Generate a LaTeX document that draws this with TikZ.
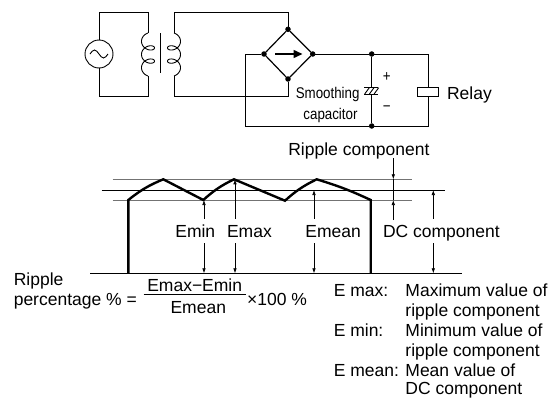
\documentclass[tikz,border=0pt]{standalone}
\usepackage{fontspec}
\setmainfont{Liberation Sans}
\newfontfamily\narrowfont[FakeStretch=0.86]{Liberation Sans}
\usetikzlibrary{arrows.meta,positioning}

\begin{document}
\begin{tikzpicture}[x=1pt,y=-1pt,line width=0.9pt,
    every node/.style={font=\fontsize{17.5}{21}\selectfont}]
  \useasboundingbox (0,0) rectangle (555,399);
  % source and transformer
  \node[draw,circle,minimum size=28pt,inner sep=0pt] (src) at (99,54) {};
  \draw ([xshift=-9pt]src.center) sin ++(4.5,-4) cos ++(4.5,4) sin ++(4.5,4) cos ++(4.5,-4);
  \coordinate (ptop) at (148,12.7);
  \coordinate (pbot) at (148,96);
  \coordinate (pa) at (148,33);
  \coordinate (pb) at (148,76);
  \coordinate (stop) at (174,12.7);
  \coordinate (sbot) at (174,96);
  \coordinate (sa) at (174,33);
  \coordinate (sb) at (174,76);
  \draw (src.north) |- (ptop) -- (pa);
  \draw (src.south) |- (pbot) -- (pb);
  \draw plot[domain=-90:810,samples=120,smooth] ({148-6.5*cos(\x)},{33+2.1*rad(\x+90)+5*(1+sin(\x))});
  \draw plot[domain=-90:810,samples=120,smooth] ({174+6.5*cos(\x)},{33+2.1*rad(\x+90)+5*(1+sin(\x))});
  \draw (160.7,33) -- (160.7,73);
  % bridge and junctions
  \begin{scope}[every node/.style={draw,circle,fill,inner sep=0pt,minimum size=4.5pt}]
  \node (bt) at (288,29.3) {};
  \node (bl) at (264,54) {};
  \node (br) at (312.7,54) {};
  \node (bb) at (288,79) {};
  \node (jt) at (371.7,54) {};
  \node (jb) at (371.7,126) {};
  \end{scope}
  \draw (sa) -- (stop) -| (bt);
  \draw (sb) -- (sbot) -| (bb);
  \draw[line width=1.2pt] (bt) -- (br) -- (bb) -- (bl) -- (bt);
  \draw[line width=2.4pt,-{Triangle[length=9pt,width=7.5pt]}] ([xshift=11pt]bl.center) -- ([xshift=-10pt]br.center);
  % capacitor and relay
  \coordinate (ct) at (371.7,87.7);
  \coordinate (cb) at (371.7,94);
  \coordinate (lft) at (245,54);
  \node[draw,fill=white,minimum width=21.7pt,minimum height=9.7pt,inner sep=0pt] (relay) at (428,91.9) {};
  \draw (br) -- (jt) -| (relay.north);
  \draw (bl) -- (lft) |- (jb) -| (relay.south);
  \draw (jt) -- (ct);
  \draw (cb) -- (jb);
  \draw ([xshift=-7.4pt]ct) -- ([xshift=6.6pt]ct);
  \draw ([xshift=-7.4pt]cb) -- ([xshift=6.6pt]cb);
  \foreach \d in {-7,-2.3,2.4}
    \draw ([xshift=\d pt]cb) -- ([xshift={\d pt+4.6pt}]ct);
  \begin{scope}[every node/.style={font=\narrowfont\fontsize{15.5}{18}\selectfont}]
  \node (plus) at (386.7,77) {+};
  \node (minus) at (386.7,109) {−};
  \node[anchor=base east] (smooth) at (363.3,98.3) {Smoothing};
  \node[anchor=base east] (capac) at (361.3,119.3) {capacitor};
  \end{scope}
  \node[right=4pt of relay,yshift=-3pt] (relaytxt) {Relay};
  % ripple waveform
  \draw[black!55,line width=0.7pt] (112.7,179.3) -- (411.7,179.3);
  \draw[black!55,line width=0.7pt] (112.7,200) -- (411.7,200);
  \draw[line width=0.7pt] (101.7,190) -- (445,190);
  \draw[line width=1pt] (90,273.3) -- (461.7,273.3);
  \draw[line width=2.4pt] (128.3,273.3) -- (128.3,200) to[bend left=8] (163.3,179.3)
    -- (203.3,200) to[bend left=8] (234,179.3) -- (285,200.7) to[bend left=8] (316.7,179.3)
    to[bend left=4] (370.7,200) -- (370.7,273.3);
  \coordinate (emintop) at (204,200);
  \coordinate (eminbot) at (204,273.3);
  \coordinate (emaxtop) at (235,179.3);
  \coordinate (emaxbot) at (235,273.3);
  \coordinate (emeantop) at (314,190);
  \coordinate (emeanbot) at (314,273.3);
  \coordinate (dctop) at (433.3,190);
  \coordinate (dcbot) at (433.3,273.3);
  \coordinate (riptop) at (393.3,179.3);
  \coordinate (ripbot) at (393.3,200);
  \coordinate (ripend) at (393.3,220);
  \begin{scope}[every node/.style={font=\fontsize{17.5}{21}\selectfont,anchor=west,
      inner sep=5.5pt,text height=12.6pt,text depth=0pt},
      every path/.style={line width=0.7pt,-{Latex[length=5pt,width=3.6pt]}}]
  \node (emin) at (169.5,231) {Emin};
  \node (emax) at (221.2,231) {Emax};
  \node (emean) at (299.5,231) {Emean};
  \node (dc) at (377.2,231) {DC component};
  \node[inner sep=3pt] (ripple) at (285,148.7) {Ripple component};
  \draw (emin.north -| emintop) -- (emintop);
  \draw (emin.south -| eminbot) -- (eminbot);
  \draw (emax.north -| emaxtop) -- (emaxtop);
  \draw (emax.south -| emaxbot) -- (emaxbot);
  \draw (emean.north -| emeantop) -- (emeantop);
  \draw (emean.south -| emeanbot) -- (emeanbot);
  \draw (dc.north -| dctop) -- (dctop);
  \draw (dc.south -| dcbot) -- (dcbot);
  \draw (ripple.south -| riptop) -- (riptop);
  \draw (ripend) -- (ripbot);
  \end{scope}
  \draw[line width=0.7pt] (riptop) -- (ripbot);
  % formula and legend
  \begin{scope}[every node/.style={font=\fontsize{17.5}{21}\selectfont,anchor=base west}]
  \node (rip) at (10,285) {Ripple};
  \node (pct) at (10,305) {percentage \% =};
  \node[anchor=base] (num) at (194.7,291.7) {Emax−Emin};
  \node[anchor=base] (den) at (198.3,313.3) {Emean};
  \node (pc) at (243.3,305) {×100 \%};
  \node (kmax) at (330,296.5) {E max:};
  \node (vmax) at (401.7,296.5) {Maximum value of};
  \node (vmax2) at (401.7,316.5) {ripple component};
  \node (kmin) at (330,336.5) {E min:};
  \node (vmin) at (401.7,336.5) {Minimum value of};
  \node (vmin2) at (401.7,356.5) {ripple component};
  \node (kmean) at (330,376.5) {E mean: Mean value of};
  \node (vmean2) at (401.7,394.5) {DC component};
  \end{scope}
  \draw ([yshift=-3pt]num.base west) -- ([yshift=-3pt]num.base east);
\end{tikzpicture}
\end{document}
